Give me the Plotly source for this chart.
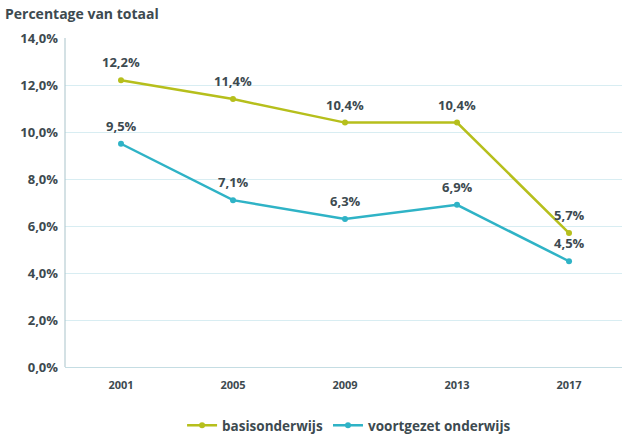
import plotly.graph_objects as go

years = ["2001", "2005", "2009", "2013", "2017"]
basis = [12.2, 11.4, 10.4, 10.4, 5.7]
voortgezet = [9.5, 7.1, 6.3, 6.9, 4.5]
basis_labels = ["12,2%", "11,4%", "10,4%", "10,4%", "5,7%"]
voortgezet_labels = ["9,5%", "7,1%", "6,3%", "6,9%", "4,5%"]
y_ticks = [0, 2, 4, 6, 8, 10, 12, 14]
y_tick_labels = ["0,0%", "2,0%", "4,0%", "6,0%", "8,0%", "10,0%", "12,0%", "14,0%"]

GREEN = "#b6bf1c"
CYAN = "#2fb3c6"
TEXT = "#3d4a50"
FONT = "Open Sans"

fig = go.Figure()
fig.add_trace(go.Scatter(
    x=years, y=basis, name="basisonderwijs", mode="lines+markers",
    line=dict(color=GREEN, width=2.5), marker=dict(color=GREEN, size=6),
))
fig.add_trace(go.Scatter(
    x=years, y=voortgezet, name="voortgezet onderwijs", mode="lines+markers",
    line=dict(color=CYAN, width=2.5), marker=dict(color=CYAN, size=6),
))

PLOT_H = 441 - 38 - 66
annotations = [dict(text="Percentage van totaal", xref="paper", yref="paper",
                    x=-62/557, y=1 + 25/PLOT_H, xanchor="left", yanchor="middle",
                    showarrow=False,
                    font=dict(family=FONT, size=14, color=TEXT, weight="bold"))]
for ys, labels in [(basis, basis_labels), (voortgezet, voortgezet_labels)]:
    for i, (y, t) in enumerate(zip(ys, labels)):
        annotations.append(dict(x=i, y=y, text=t, xref="x", yref="y", showarrow=False,
                                yshift=18, xanchor="center", yanchor="middle",
                                font=dict(family=FONT, size=13, color=TEXT, weight="bold")))

fig.update_layout(
    width=622, height=441,
    margin=dict(l=65, r=0, t=38, b=66),
    paper_bgcolor="white", plot_bgcolor="white",
    font=dict(family=FONT, color=TEXT),
    showlegend=True,
    legend=dict(orientation="h", x=0.51, xanchor="center", y=-60/PLOT_H, yanchor="middle",
                font=dict(family=FONT, size=13.5, color=TEXT, weight="bold"),
                itemwidth=30, tracegroupgap=0),
    annotations=annotations,
)
fig.update_xaxes(type="category", range=[-0.5, 4.473], automargin=False,
                 showgrid=False, showline=True, linecolor="#c5dde3", linewidth=1,
                 mirror=False, zeroline=False, ticks="", ticklabelstandoff=8,
                 tickfont=dict(family=FONT, size=11, color=TEXT, weight="bold"))
fig.update_yaxes(range=[0, 14], tickvals=y_ticks, ticktext=y_tick_labels, automargin=False,
                 showgrid=True, gridcolor="#d8edf2", gridwidth=1,
                 zeroline=False, showline=False, ticks="", ticklabelstandoff=6,
                 tickfont=dict(family=FONT, size=13, color=TEXT, weight="bold"))
fig.add_shape(type="line", xref="paper", yref="paper", x0=0, x1=0, y0=0, y1=1,
              line=dict(color="#a9c3ca", width=1))

fig.write_html("out.html", config={"displayModeBar": False},
               post_script="document.body.style.margin='0';")
